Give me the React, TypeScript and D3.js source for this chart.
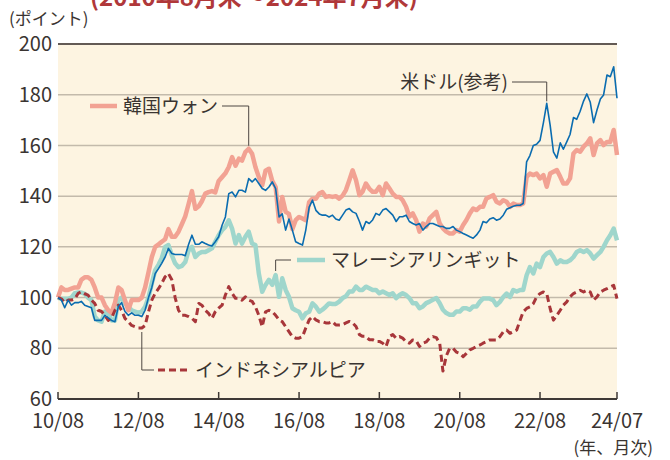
import React from "react";
import * as d3 from "d3";

// monthly index values, 2010/08 = 100, through 2024/07
const startMonth = new Date(2010, 7, 1);

const krw = [
  100, 104, 103, 103, 103.5, 104, 104, 107, 108, 108, 107, 104, 100, 100, 97, 95, 94, 98, 104, 103,
  99, 95, 99, 99, 99, 100, 104, 110, 116, 120, 121, 122, 123, 127, 124, 124, 126, 129, 132, 137,
  142, 135, 136, 138, 141, 141.6, 142, 141.5, 146, 147.5, 149, 151.5, 155.4, 152, 154.8, 154, 157.4, 158.7, 156.7, 151.5,
  147.5, 144.3, 150, 150.8, 146, 143.6, 130, 139.7, 133.8, 133, 127, 130.5, 131.8, 131.2, 130.5, 137.7, 139, 139, 141, 141.6,
  139.7, 140, 139.7, 140, 139, 140.2, 142.4, 146.3, 150.2, 146.3, 140.4, 141.7, 145, 143, 141.7, 141.7, 143.7, 140.4, 145, 143,
  141, 139.7, 139.7, 138.4, 135.8, 131.9, 133.2, 130.6, 126, 129.2, 128, 131.2, 132.5, 133.8, 129.2, 127.3, 126, 125.3, 125.3, 126.6,
  126, 128.6, 130.6, 133.2, 135.1, 134.5, 135.8, 135.8, 139.1, 139.7, 140.4, 137.8, 137.1, 138.4, 137.8, 135.8, 137.1, 136.5, 136.5, 137.1,
  147.6, 148.9, 148.3, 148.9, 147, 148.3, 143.7, 148.9, 149.6, 150.3, 147.6, 145, 145, 147, 156.8, 158.2, 157.5, 159.5, 160.8, 162.8,
  156.2, 160.8, 162.1, 160.1, 161.4, 161.4, 166.1, 156.2,
];

const usd = [
  100, 99, 96, 99, 97, 98, 98, 98.5, 97, 96.5, 96, 91, 91, 91, 93, 92, 91, 90.5, 96.5, 98,
  94.5, 93, 94, 93, 93, 92.5, 95, 100, 104, 109.5, 111.5, 113.5, 116, 119.4, 117.4, 117, 117, 117, 116.5, 121,
  124.6, 121, 121, 122, 121.3, 120.7, 120.3, 122, 124, 128.5, 131.8, 141, 141.6, 139.7, 142.3, 142.3, 141.6, 146.9, 145.6, 146.9,
  145, 143, 142.3, 143.6, 145.6, 143, 131.8, 133, 126.6, 131, 126.6, 122, 121.3, 120.7, 126.6, 135.7, 138.4, 134.4, 133, 132.5,
  132.5, 131.8, 132.5, 131, 130.5, 132.5, 134.5, 135.1, 133.8, 133.2, 130, 126.6, 130, 129.2, 130.6, 133.2, 132.5, 134.5, 135.1, 133.8,
  132.5, 130, 131.9, 131.9, 132.5, 130, 129.2, 128.6, 129.2, 126.6, 128, 129.2, 129.2, 128.6, 128, 128, 127.3, 127.3, 128, 126.6,
  126, 125.3, 124.7, 124, 123.4, 124.7, 126.6, 130, 129.5, 131, 131.5, 130.5, 131, 132.5, 134.8, 135.4, 136, 136.4, 136.4, 137.1,
  153.5, 156, 160, 160.5, 162, 169, 176.6, 168, 157.5, 155, 161, 158.5, 161.4, 164.3, 171, 170.3, 173.5, 177.5, 180.3, 177,
  169, 174, 178.3, 179.9, 187.8, 187.1, 191, 178.6,
];

const myr = [
  100, 99.5, 99.5, 99.5, 100, 101.7, 102, 102, 101.5, 100, 99, 92.5, 91, 90.5, 94.5, 94, 91, 91, 99, 100,
  97.7, 96.4, 95, 94.5, 94, 94.5, 96.4, 100, 105.6, 110.8, 113, 115.5, 120, 120.7, 116.7, 113.5, 112, 112.5, 114, 118.7,
  120, 116, 117.4, 118, 118, 118.7, 119.4, 122, 124.6, 126.6, 127.9, 130.5, 127.2, 121.3, 124.6, 121.3, 124, 126, 121.3, 120.7,
  109.5, 102.3, 105, 107, 105, 108.9, 100.3, 107.6, 103, 100.3, 95.8, 95, 94.4, 91.8, 93.8, 94.4, 97.7, 96.4, 94.4, 95.2,
  96.4, 97.7, 97.5, 97.5, 98.4, 99.8, 100.5, 102.4, 102.4, 104.3, 103, 103, 104.3, 103.7, 103, 103, 101.7, 102.4, 101.7, 101,
  101.7, 99.8, 101, 101.7, 101, 99.8, 97.8, 97.8, 95.8, 96.5, 97.8, 98.4, 99.1, 99.8, 97.8, 95.2, 93.9, 93.2, 93.2, 94.5,
  94.5, 95.8, 95.8, 95.2, 96.5, 96.5, 98.4, 99.6, 99.6, 99.6, 99, 97, 98.3, 100.2, 101.6, 100.2, 103, 102.4, 103, 103,
  108.8, 112, 109.5, 113.4, 112, 116, 117.4, 118, 116, 113.4, 114.7, 114, 114, 114.7, 116, 118, 118.7, 118, 118.7, 117.4,
  115.4, 116.7, 118, 120, 122.6, 124.6, 127.2, 122.6,
];

const idr = [
  100, 99.5, 98, 99, 99, 99.5, 101.7, 102.3, 101.5, 101, 99, 97.7, 95, 94.5, 93, 91, 92, 95, 97, 95,
  91.8, 90.5, 89, 88.5, 88, 88, 89, 94.4, 99, 101.7, 103.6, 105.6, 108.2, 109.5, 107, 100, 95, 93, 93, 92.5,
  91.8, 90.5, 97.7, 97, 95, 93.8, 91.8, 94.4, 95.8, 97, 101, 104.3, 101.7, 99.7, 99.7, 99, 100.3, 99, 98.5, 96.4,
  93, 88.5, 94.4, 95, 94.4, 93, 91.2, 90.5, 88.5, 86.6, 84.6, 84, 84, 84.6, 88, 91.2, 92.5, 91.2, 90.5, 90.5,
  90, 90, 90.5, 89.2, 89.2, 89.3, 90, 90.6, 90, 88.6, 85.4, 84.7, 84.7, 83.4, 83.4, 82.7, 82.7, 82, 80.7, 84.7,
  85.4, 84, 84.6, 84, 82.6, 82, 83.3, 83, 80.7, 82, 82.5, 84, 84.6, 84.2, 82, 71, 77, 80, 80, 78.5,
  78, 76.7, 78, 79.4, 80, 80.7, 81.3, 82, 82.6, 83.3, 83.3, 83.3, 84.6, 86.5, 87.2, 85.9, 86.5, 87.2, 91.1, 94.4,
  95.7, 96.3, 97.6, 100.3, 101.6, 102.2, 101.6, 95.7, 91.1, 93, 95, 97, 98.3, 100.3, 101.6, 102.2, 102.9, 102.2, 102.9, 102.2,
  99, 100.3, 102.2, 102.9, 103.5, 104.2, 104.8, 99.6,
];

const yTicks = [60, 80, 100, 120, 140, 160, 180, 200];
const xTickLabels = ["10/08", "12/08", "14/08", "16/08", "18/08", "20/08", "22/08", "24/07"];
const xTickDates = [
  new Date(2010, 7, 1), new Date(2012, 7, 1), new Date(2014, 7, 1), new Date(2016, 7, 1),
  new Date(2018, 7, 1), new Date(2020, 7, 1), new Date(2022, 7, 1), new Date(2024, 6, 1),
];

const months = krw.map((_, i) => d3.timeMonth.offset(startMonth, i));

const W = 670;
const H = 460;
const left = 58;
const right = 617;
const top = 44;
const bottom = 399;

const font = "'Noto Sans CJK JP', 'Noto Sans', sans-serif";
const textColor = "#3a3431";
const leaderColor = "#4d4642";

export default function App() {
  const x = d3.scaleTime().domain([months[0], months[months.length - 1]]).range([left, right]);
  const y = d3.scaleLinear().domain([60, 200]).range([bottom, top]);
  const line = (vals: number[]) =>
    d3.line<number>().x((_, i) => x(months[i])).y((v) => y(v))(vals) || "";

  // leader anchor points
  const usdPeak = 146;
  const krwPeak = 57;
  const myrPt = 65;
  const idrPt = 25;

  return (
    <svg width={W} height={H} style={{ position: "absolute", left: 0, top: 0, fontFamily: font }}>
      <rect x={0} y={0} width={W} height={H} fill="#ffffff" />
      <text x={90} y={6} fontSize={24} fontWeight={700} fill="#b0383a">
        (2010年8月末〜2024年7月末)
      </text>
      <text x={9} y={25} fontSize={17} fill={textColor}>
        (ポイント)
      </text>
      <rect x={left} y={top} width={right - left} height={bottom - top} fill="#fdf4e1" />
      {yTicks.slice(1, -1).map((t) => (
        <line key={t} x1={left} x2={right} y1={y(t)} y2={y(t)} stroke="#c3baab" strokeWidth={1.5} />
      ))}
      <line x1={left} x2={right} y1={y(200)} y2={y(200)} stroke="#635a55" strokeWidth={2} />
      {yTicks.map((t) => (
        <text key={t} x={52} y={y(t)} dy="0.36em" textAnchor="end" fontSize={20} fill={textColor}>
          {t}
        </text>
      ))}

      <path d={line(myr)} fill="none" stroke="#9fd6cc" strokeWidth={4.5} strokeLinejoin="round" />
      <path d={line(krw)} fill="none" stroke="#f2a293" strokeWidth={4.5} strokeLinejoin="round" />
      <path d={line(idr)} fill="none" stroke="#a8363a" strokeWidth={3} strokeDasharray="7,4" strokeLinejoin="round" />
      <path d={line(usd)} fill="none" stroke="#0a6cb0" strokeWidth={1.6} strokeLinejoin="round" />

      {/* axis */}
      <line x1={left} x2={right} y1={bottom} y2={bottom} stroke="#3e3936" strokeWidth={2} />
      {xTickDates.map((d, i) => (
        <g key={i}>
          <line x1={x(d)} x2={x(d)} y1={bottom} y2={bottom - 7} stroke="#3e3936" strokeWidth={1.5} />
          <text x={x(d)} y={428} textAnchor="middle" fontSize={20} fill={textColor}>
            {xTickLabels[i]}
          </text>
        </g>
      ))}
      <text x={653} y={454} textAnchor="end" fontSize={17} fill={textColor}>
        (年、月次)
      </text>

      {/* USD label */}
      <text x={508} y={82} dy="0.36em" textAnchor="end" fontSize={19} fill={textColor}>
        米ドル(参考)
      </text>
      <polyline
        points={`512,82 ${x(months[usdPeak])},82 ${x(months[usdPeak])},${y(usd[usdPeak]) - 2}`}
        fill="none" stroke={leaderColor} strokeWidth={1}
      />

      {/* KRW label */}
      <line x1={90} x2={117} y1={106} y2={106} stroke="#f2a293" strokeWidth={4.5} />
      <text x={123} y={106} dy="0.36em" fontSize={19} fill={textColor}>
        韓国ウォン
      </text>
      <polyline
        points={`222,106 ${x(months[krwPeak])},106 ${x(months[krwPeak])},${y(krw[krwPeak]) - 3}`}
        fill="none" stroke={leaderColor} strokeWidth={1}
      />

      {/* MYR label */}
      <line x1={297} x2={325} y1={260} y2={260} stroke="#9fd6cc" strokeWidth={4.5} />
      <text x={331} y={260} dy="0.36em" fontSize={19} fill={textColor}>
        マレーシアリンギット
      </text>
      <polyline
        points={`291,260 ${x(months[myrPt])},260 ${x(months[myrPt])},${y(myr[myrPt]) - 4}`}
        fill="none" stroke={leaderColor} strokeWidth={1}
      />

      {/* IDR label */}
      <line x1={158} x2={190} y1={370} y2={370} stroke="#a8363a" strokeWidth={3} strokeDasharray="7,4" />
      <text x={195} y={370} dy="0.36em" fontSize={19} fill={textColor}>
        インドネシアルピア
      </text>
      <polyline
        points={`${x(months[idrPt])},${y(idr[idrPt]) + 4} ${x(months[idrPt])},370 154,370`}
        fill="none" stroke={leaderColor} strokeWidth={1}
      />
    </svg>
  );
}
